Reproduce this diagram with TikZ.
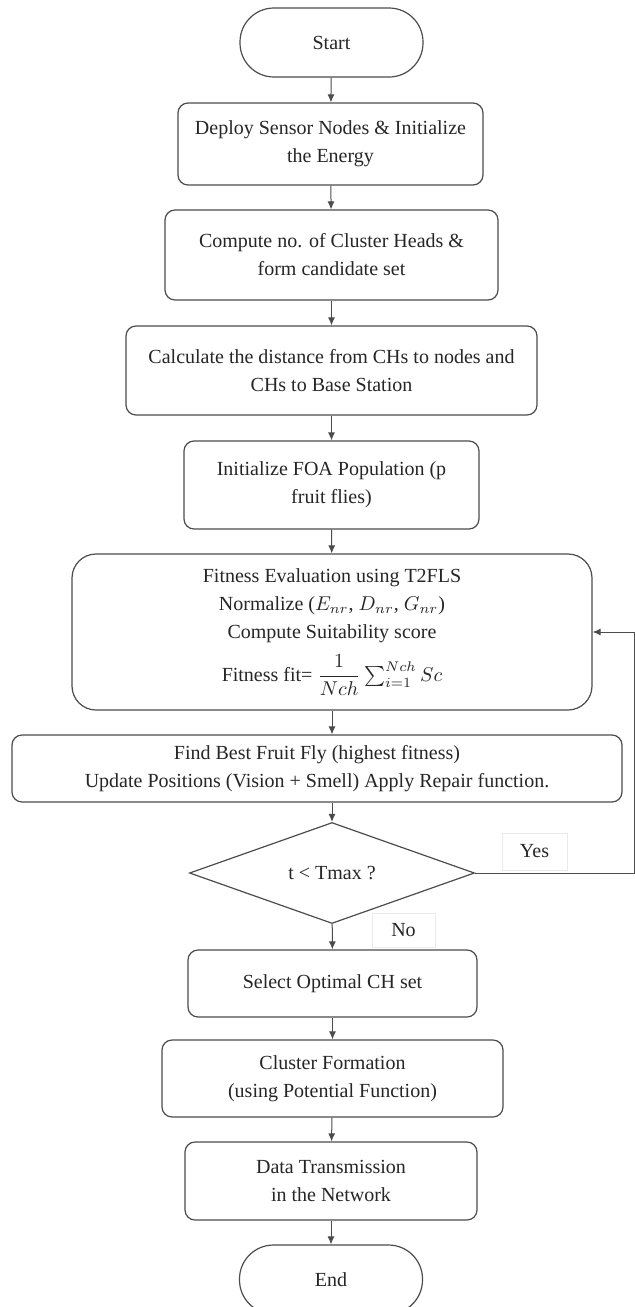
\documentclass[tikz,border=0pt]{standalone}
\usepackage{amsmath,amssymb}
\usepackage{fontspec}
\setmainfont{Liberation Serif}
\usepackage{tikz}
\usetikzlibrary{shapes.geometric,arrows.meta}

\begin{document}
\begin{tikzpicture}[x=0.5pt,y=-0.5pt,
    every node/.append style={font=\fontsize{10}{14}\selectfont,text=black!85},
    proc/.style={draw=black!70,line width=0.6pt,rounded corners=5pt,align=center,inner sep=2pt},
    term/.style={draw=black!70,line width=0.6pt,rounded corners=17pt,minimum width=91.5pt,minimum height=34.5pt},
    decision/.style={draw=black!70,line width=0.6pt,diamond,inner sep=0pt,minimum width=142.5pt,minimum height=50.5pt},
    lbl/.style={draw=black!8,fill=white,inner sep=1pt},
    arr/.style={draw=black!70,line width=0.5pt,-{Latex[length=4pt,width=3.5pt]}}
    ]
    \useasboundingbox[fill=white] (0,0) rectangle (635,1307);
    % Boxes
    \node[term] (start) at (331.5,42.5) {Start};
    \node[proc,minimum width=152.5pt,minimum height=41pt] (deploy) at (330.5,144)
        {Deploy Sensor Nodes \& Initialize\\the Energy};
    \node[proc,minimum width=166.5pt,minimum height=45pt] (chnum) at (331.5,255)
        {Compute no. of Cluster Heads \&\\form candidate set};
    \node[proc,minimum width=205.5pt,minimum height=44.5pt] (dist) at (331.5,370.5)
        {Calculate the distance from CHs to nodes and\\CHs to Base Station};
    \node[proc,minimum width=147.5pt,minimum height=44pt] (foa) at (331.5,485)
        {Initialize FOA Population (p\\fruit flies)};
    \node[proc,rounded corners=12pt,minimum width=260pt,minimum height=78pt] (fit) at (332,632)
        {Fitness Evaluation using T2FLS\\
         Normalize ($E_{nr}$, $D_{nr}$, $G_{nr}$)\\
         Compute Suitability score\\[5pt]
         Fitness fit= $\dfrac{1}{Nch}\textstyle\sum_{i=1}^{Nch}Sc$};
    \node[proc,minimum width=305pt,minimum height=33.5pt] (best) at (317,768.5)
        {Find Best Fruit Fly (highest fitness)\\Update Positions (Vision + Smell) Apply Repair function.};
    \node[decision] (iter) at (332,873) {t < Tmax ?};
    \node[proc,minimum width=144.5pt,minimum height=33.5pt] (sel) at (332.5,983.5) {Select Optimal CH set};
    \node[proc,minimum width=170.5pt,minimum height=38.5pt] (clus) at (332.5,1078.5)
        {Cluster Formation\\(using Potential Function)};
    \node[proc,minimum width=146pt,minimum height=39pt] (data) at (331,1181)
        {Data Transmission\\in the Network};
    \node[term] (stop) at (331,1279.5) {End};
    % Labels
    \node[lbl,minimum width=32.5pt,minimum height=18.5pt] (yes) at (534.5,851.5) {Yes};
    \node[lbl,minimum width=31.5pt,minimum height=17pt] (no) at (403.5,930) {No};
    % Connectors
    \draw[arr] (start) -- (deploy);
    \draw[arr] (deploy) -- (chnum);
    \draw[arr] (chnum) -- (dist);
    \draw[arr] (dist) -- (foa);
    \draw[arr] (foa) -- (fit);
    \draw[arr] (fit) -- (fit.south |- best.north);
    \draw[arr] (best.south -| iter.north) -- (iter);
    \draw[arr] (iter) -- (sel);
    \draw[arr] (sel) -- (clus);
    \draw[arr] (clus) -- (data);
    \draw[arr] (data) -- (stop);
    \coordinate (loop) at (634,873);
    \draw[arr] (iter.east) -- (loop) -- (loop |- fit.east) -- (fit.east);
\end{tikzpicture}
\end{document}
